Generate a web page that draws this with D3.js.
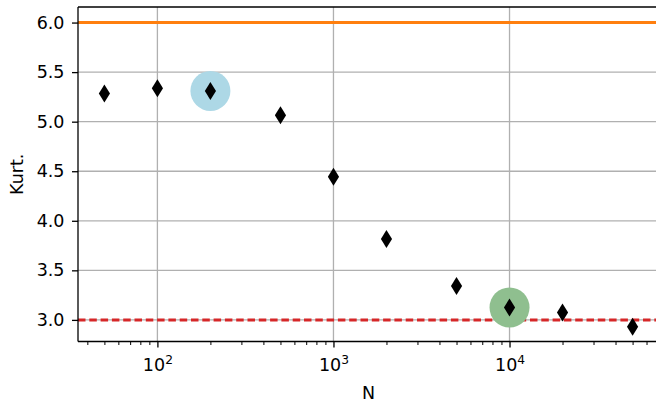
<!DOCTYPE html>
<html>
<head>
<meta charset="utf-8">
<script src="https://cdn.jsdelivr.net/npm/d3@7"></script>
<style>
  html, body { margin: 0; padding: 0; background: #fff; }
  svg { display: block; font-family: "DejaVu Sans", sans-serif; }
</style>
</head>
<body>
<svg id="chart" width="656" height="405"></svg>
<script>
// Sample size N and the measured kurtosis at each size
const sampleSizes = [50, 100, 200, 500, 1000, 2000, 5000, 10000, 20000, 50000];
const kurtosis = [5.285, 5.336, 5.31, 5.065, 4.445, 3.815, 3.343, 3.125, 3.075, 2.93];

// Reference levels
const upperLevel = 6.0;   // solid orange
const normalLevel = 3.0;  // dashed red

// Highlighted samples
const highlightN = [200, 10000];
const highlightColors = ["#add8e6", "#8fbf8f"];

const yTicks = [3.0, 3.5, 4.0, 4.5, 5.0, 5.5, 6.0];
const xMajorTicks = [100, 1000, 10000];

const FONT = 17.5;

const margin = { left: 78, top: 7, right: 659, bottom: 341.5 };

const svg = d3.select("#chart");

const x = d3.scaleLog()
  .domain([Math.pow(10, 1.549), Math.pow(10, 4.849)])
  .range([margin.left, margin.right]);

const y = d3.scaleLinear()
  .domain([2.782, 6.157])
  .range([margin.bottom, margin.top]);

const plotW = margin.right - margin.left;
const plotH = margin.bottom - margin.top;

svg.append("clipPath").attr("id", "plotclip")
  .append("rect")
  .attr("x", margin.left).attr("y", margin.top)
  .attr("width", plotW).attr("height", plotH);

const plot = svg.append("g").attr("clip-path", "url(#plotclip)");

// Grid lines
plot.selectAll("line.gy").data(yTicks).join("line")
  .attr("class", "gy")
  .attr("x1", margin.left).attr("x2", margin.right)
  .attr("y1", d => y(d)).attr("y2", d => y(d))
  .attr("stroke", "#b0b0b0").attr("stroke-width", 1.3);

plot.selectAll("line.gx").data(xMajorTicks).join("line")
  .attr("class", "gx")
  .attr("x1", d => x(d)).attr("x2", d => x(d))
  .attr("y1", margin.top).attr("y2", margin.bottom)
  .attr("stroke", "#b0b0b0").attr("stroke-width", 1.3);

// Reference lines
plot.append("line")
  .attr("x1", margin.left).attr("x2", margin.right)
  .attr("y1", y(upperLevel)).attr("y2", y(upperLevel))
  .attr("stroke", "#ff7f0e").attr("stroke-width", 3);

plot.append("line")
  .attr("x1", margin.left).attr("x2", margin.right)
  .attr("y1", y(normalLevel)).attr("y2", y(normalLevel))
  .attr("stroke", "#d62728").attr("stroke-width", 3)
  .attr("stroke-dasharray", "7.5,3.8");

// Highlight circles behind the markers
highlightN.forEach((n, i) => {
  const k = kurtosis[sampleSizes.indexOf(n)];
  plot.append("circle")
    .attr("cx", x(n)).attr("cy", y(k)).attr("r", 20)
    .attr("fill", highlightColors[i]);
});

// Thin diamond markers
const hw = 5.6, hh = 9;
plot.selectAll("path.pt").data(sampleSizes.map((n, i) => [n, kurtosis[i]])).join("path")
  .attr("class", "pt")
  .attr("transform", d => `translate(${x(d[0])},${y(d[1])})`)
  .attr("d", `M0,${-hh}L${hw},0L0,${hh}L${-hw},0Z`)
  .attr("fill", "#000");

// Spines
const spine = (x1, y1, x2, y2) => svg.append("line")
  .attr("x1", x1).attr("y1", y1).attr("x2", x2).attr("y2", y2)
  .attr("stroke", "#000").attr("stroke-width", 1.3);
spine(margin.left, margin.top, margin.left, margin.bottom);
spine(margin.left, margin.bottom, margin.right, margin.bottom);
spine(margin.left, margin.top, margin.right, margin.top);

// Y axis
const yAxis = d3.axisLeft(y).tickValues(yTicks).tickFormat(d3.format(".1f"))
  .tickSize(6).tickPadding(7.5);
const yg = svg.append("g").attr("transform", `translate(${margin.left},0)`).call(yAxis);
yg.attr("font-size", FONT).attr("font-family", "DejaVu Sans");
yg.select(".domain").remove();
yg.selectAll("text").attr("fill", "#000");
yg.selectAll("line").attr("stroke", "#000").attr("stroke-width", 1.3);

// X axis: minor ticks
const minorTicks = [];
[10, 100, 1000, 10000].forEach(dec => {
  for (let m = 2; m <= 9; m++) {
    const v = dec * m;
    if (x(v) >= margin.left && x(v) <= margin.right) minorTicks.push(v);
  }
});
const xMinor = d3.axisBottom(x).tickValues(minorTicks).tickFormat("").tickSize(3.5);
const xmg = svg.append("g").attr("transform", `translate(0,${margin.bottom})`).call(xMinor);
xmg.select(".domain").remove();
xmg.selectAll("line").attr("stroke", "#000").attr("stroke-width", 1);

// X axis: major ticks with power-of-ten labels
const xMajor = d3.axisBottom(x).tickValues(xMajorTicks).tickFormat("").tickSize(6);
const xg = svg.append("g").attr("transform", `translate(0,${margin.bottom})`).call(xMajor);
xg.attr("font-size", FONT).attr("font-family", "DejaVu Sans");
xg.select(".domain").remove();
xg.selectAll("line").attr("stroke", "#000").attr("stroke-width", 1.3);

xg.selectAll("g.tick").append("text")
  .attr("y", 29.5).attr("text-anchor", "middle").attr("fill", "#000")
  .each(function(d) {
    const t = d3.select(this);
    t.append("tspan").text("10");
    t.append("tspan").attr("dy", -7.5).attr("font-size", FONT * 0.7)
      .text(Math.round(Math.log10(d)));
  });

// Axis titles
svg.append("text")
  .attr("x", (margin.left + margin.right) / 2).attr("y", 399)
  .attr("text-anchor", "middle").attr("font-size", FONT).attr("fill", "#000")
  .attr("font-family", "DejaVu Sans")
  .text("N");

svg.append("text")
  .attr("transform", `translate(23,${(margin.top + margin.bottom) / 2}) rotate(-90)`)
  .attr("text-anchor", "middle").attr("font-size", FONT).attr("fill", "#000")
  .attr("font-family", "DejaVu Sans")
  .text("Kurt.");
</script>
</body>
</html>
